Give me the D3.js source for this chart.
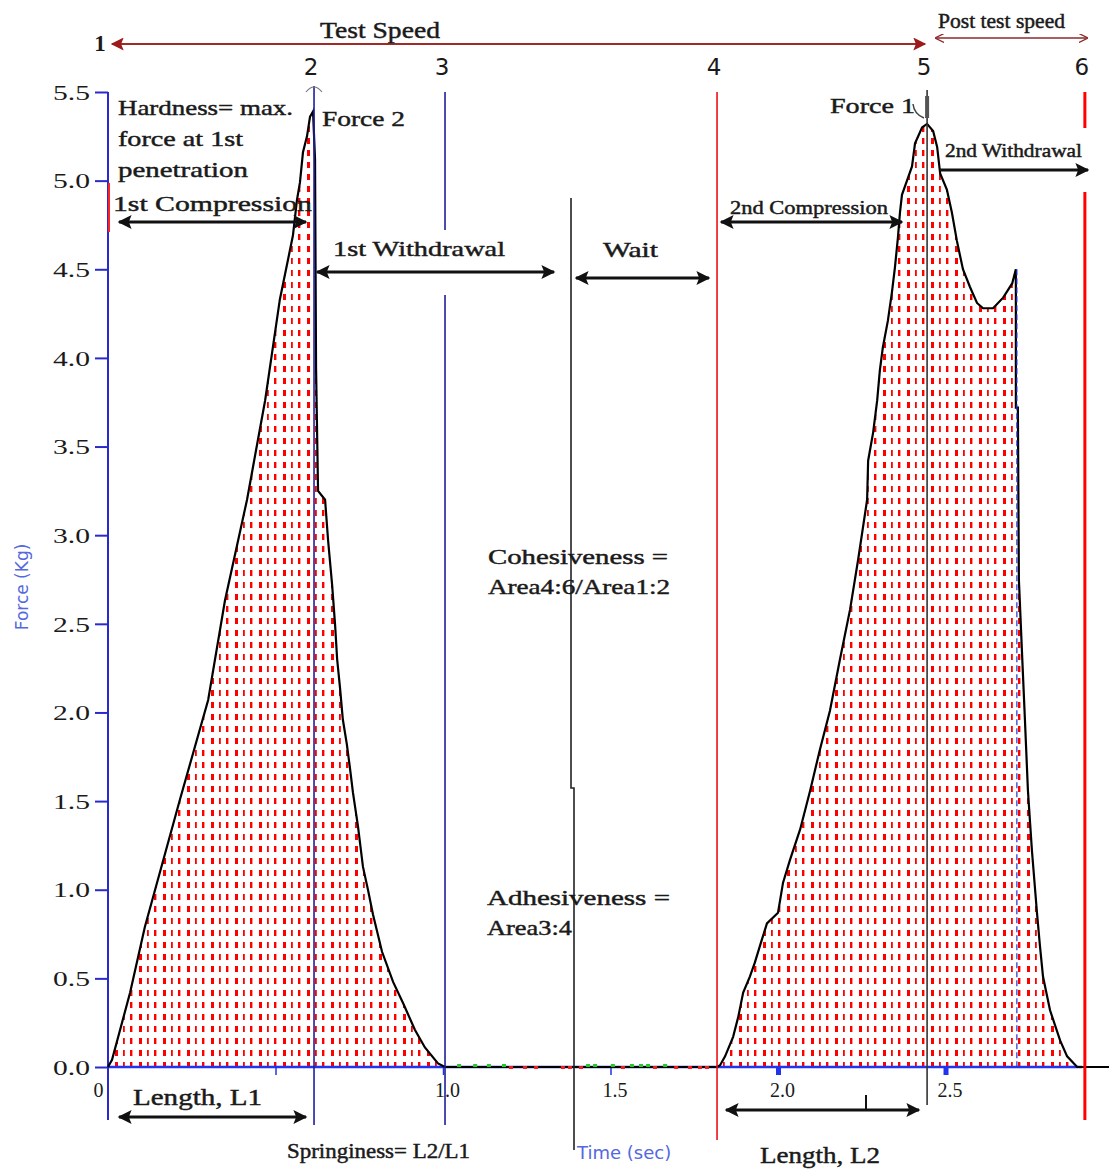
<!DOCTYPE html>
<html>
<head>
<meta charset="utf-8">
<script src="https://cdn.jsdelivr.net/npm/d3@7"></script>
<style>
  body { margin: 0; background: #fff; }
  text { font-family: "Liberation Serif", "Times New Roman", serif; fill: #1a1a1a; }
  .lab { stroke: #1a1a1a; stroke-width: 0.45px; }
  .sans { font-family: "DejaVu Sans", sans-serif; stroke: none; }
</style>
</head>
<body>
<svg id="chart" width="1109" height="1171"></svg>
<script>
// force (kg) against time (sec)
const firstPeak = [
  [0, 0], [0.012, 0.04], [0.066, 0.42], [0.110, 0.79], [0.215, 1.51], [0.299, 2.07],
  [0.349, 2.63], [0.415, 3.20], [0.469, 3.76], [0.513, 4.33], [0.552, 4.69], [0.564, 4.89],
  [0.573, 4.99], [0.582, 5.16], [0.594, 5.25], [0.603, 5.36], [0.612, 5.39], [0.618, 5.12],
  [0.621, 3.95], [0.627, 3.25], [0.648, 3.20], [0.657, 2.97], [0.669, 2.72], [0.678, 2.49],
  [0.684, 2.30], [0.693, 2.13], [0.701, 1.96], [0.713, 1.82], [0.722, 1.69], [0.731, 1.55],
  [0.746, 1.36], [0.761, 1.13], [0.776, 1.00], [0.791, 0.86], [0.818, 0.65], [0.851, 0.48],
  [0.881, 0.36], [0.916, 0.21], [0.946, 0.11], [0.985, 0.02], [1.006, 0]
];
const secondPeak = [
  [1.818, 0], [1.827, 0.01], [1.842, 0.06], [1.866, 0.17], [1.881, 0.28], [1.896, 0.42],
  [1.916, 0.51], [1.931, 0.59], [1.952, 0.72], [1.967, 0.81], [2.000, 0.87], [2.015, 1.04],
  [2.036, 1.17], [2.066, 1.34], [2.096, 1.56], [2.125, 1.79], [2.155, 2.01], [2.185, 2.30],
  [2.215, 2.58], [2.239, 2.86], [2.266, 3.20], [2.269, 3.42], [2.284, 3.58], [2.296, 3.76],
  [2.304, 3.93], [2.313, 4.06], [2.328, 4.21], [2.340, 4.37], [2.349, 4.51], [2.358, 4.68],
  [2.364, 4.82], [2.370, 4.92], [2.385, 5.00], [2.400, 5.08], [2.409, 5.21], [2.430, 5.30],
  [2.445, 5.32], [2.463, 5.28], [2.475, 5.19], [2.484, 5.04], [2.504, 4.95], [2.519, 4.82],
  [2.534, 4.66], [2.552, 4.50], [2.573, 4.40], [2.594, 4.31], [2.612, 4.28], [2.642, 4.28],
  [2.672, 4.34], [2.699, 4.42], [2.710, 4.50], [2.710, 3.72], [2.716, 3.72], [2.719, 2.75],
  [2.728, 2.35], [2.737, 1.96], [2.746, 1.56], [2.758, 1.22], [2.773, 0.87], [2.782, 0.68],
  [2.791, 0.51], [2.812, 0.32], [2.842, 0.15], [2.863, 0.06], [2.893, 0], [2.988, 0]
];
const restLine = [[1.006, 0], [1.818, 0]];
const greenNoise = [1.048, 1.096, 1.137, 1.182, 1.433, 1.454, 1.507, 1.564, 1.591, 1.612, 1.663];
const redNoise = [1.203, 1.245, 1.278, 1.358, 1.379, 1.412, 1.537, 1.633, 1.696, 1.737, 1.767, 1.788];

const yTicks = [0, 0.5, 1, 1.5, 2, 2.5, 3, 3.5, 4, 4.5, 5, 5.5];
const xTicks = [0, 0.5, 1.0, 1.5, 2.0, 2.5];
const xTickLabels = ["0", "", "1.0", "1.5", "2.0", "2.5"];

const phaseTimes = [0, 0.615, 1.006, 1.818, 2.445, 2.916];
const phaseLabels = ["1", "2", "3", "4", "5", "6"];

const svg = d3.select("#chart");
const x = d3.scaleLinear().domain([0, 2.988]).range([108, 1109]);
const y = d3.scaleLinear().domain([0, 5.5]).range([1067, 92]);

const defs = svg.append("defs");
const pat = defs.append("pattern").attr("id", "redDots")
  .attr("patternUnits", "userSpaceOnUse").attr("width", 24).attr("height", 12)
  .attr("x", 115).attr("y", 1062);
[[0, 3], [8, 1.8], [15, 2.4]].forEach(([ox, w]) => {
  pat.append("rect").attr("x", ox).attr("y", 0).attr("width", w).attr("height", 6).attr("fill", "#ff0000");
});

function marker(id, color, w, h, open) {
  const m = defs.append("marker").attr("id", id)
    .attr("viewBox", "0 0 10 10").attr("refX", 9).attr("refY", 5)
    .attr("markerUnits", "userSpaceOnUse").attr("markerWidth", w).attr("markerHeight", h)
    .attr("orient", "auto-start-reverse");
  if (open) m.append("path").attr("d", "M0,0 L10,5 L0,10").attr("fill", "none").attr("stroke", color).attr("stroke-width", 1.5);
  else m.append("path").attr("d", "M0,0 L10,5 L0,10 L2,5 z").attr("fill", color);
}
marker("blk", "#111", 16, 14, false);
marker("red", "#9e1a1a", 14, 13, false);
marker("thin", "#8b2a2a", 9, 9, true);

// filled areas
const area = d3.area().x(d => x(d[0])).y0(y(0)).y1(d => y(d[1]));
[firstPeak, secondPeak].forEach(s => {
  svg.append("path").datum(s).attr("d", area).attr("fill", "url(#redDots)");
});

// axes
svg.append("line").attr("x1", x(0)).attr("x2", 1082).attr("y1", y(0)).attr("y2", y(0))
  .attr("stroke", "#2233ee").attr("stroke-width", 2.5);
svg.append("line").attr("x1", x(0)).attr("x2", x(0)).attr("y1", y(5.5)).attr("y2", 1120)
  .attr("stroke", "#2a2acc").attr("stroke-width", 2);

const yAxis = svg.append("g").attr("transform", `translate(${x(0)},0)`)
  .call(d3.axisLeft(y).tickValues(yTicks).tickSize(13).tickSizeOuter(0).tickFormat(d3.format(".1f")));
yAxis.select(".domain").remove();
yAxis.selectAll(".tick line").attr("stroke", "#2a2acc").attr("stroke-width", 2);
yAxis.selectAll(".tick text").attr("x", -18).attr("dy", "0.36em")
  .style("font-family", "Liberation Serif, serif").style("font-size", "20px")
  .attr("textLength", 37).attr("lengthAdjust", "spacingAndGlyphs").attr("fill", "#3b2f2f");

const xAxis = svg.append("g").attr("transform", `translate(0,${y(0)})`)
  .call(d3.axisBottom(x).tickValues(xTicks).tickSize(8).tickSizeOuter(0).tickFormat((d, i) => xTickLabels[i]));
xAxis.select(".domain").remove();
xAxis.selectAll(".tick line").attr("stroke", "#2233ee").attr("stroke-width", (d) => d >= 2 ? 5 : 1.5)
  .attr("opacity", d => d === 0 ? 0 : 1);
xAxis.selectAll(".tick text").attr("y", 16).attr("dx", d => d === 0 ? -10 : 4)
  .style("font-family", "Liberation Serif, serif").style("font-size", "20px").attr("fill", "#3b2f2f");

// curve
const line = d3.line().x(d => x(d[0])).y(d => y(d[1]));
[firstPeak, restLine, secondPeak].forEach(s => {
  svg.append("path").datum(s).attr("d", line).attr("fill", "none")
    .attr("stroke", "#000").attr("stroke-width", 2.2).attr("stroke-linejoin", "miter");
});
svg.selectAll(".gdot").data(greenNoise).join("rect").attr("class", "gdot")
  .attr("x", d => x(d) - 2).attr("y", y(0) - 3).attr("width", 4).attr("height", 3).attr("fill", "#22cc22");
svg.selectAll(".rdot").data(redNoise).join("rect").attr("class", "rdot")
  .attr("x", d => x(d) - 2).attr("y", y(0) - 1).attr("width", 4).attr("height", 3).attr("fill", "#ee2222");

// phase lines
const vline = (t, y1, y2, color, w, dash) => svg.append("line")
  .attr("x1", x(t)).attr("x2", x(t)).attr("y1", y1).attr("y2", y2)
  .attr("stroke", color).attr("stroke-width", w).attr("stroke-dasharray", dash || null);
vline(phaseTimes[1], 86, 1125, "#1f1f9a", 1.6);
vline(phaseTimes[2], 92, 230, "#1f1f9a", 1.6);
vline(phaseTimes[2], 295, 1125, "#1f1f9a", 1.6);
vline(phaseTimes[3], 92, 1140, "#ee1111", 1.6);
vline(phaseTimes[4], 90, 1105, "#333", 1.6);
vline(phaseTimes[5], 92, 128, "#ff0000", 3);
vline(phaseTimes[5], 192, 1120, "#ff0000", 3);
vline(2.713, y(4.5), y(0), "#2233cc", 1.2, "6,3");
svg.append("path").attr("d", "M571,198 L571,788 L574,788 L574,1150").attr("fill", "none")
  .attr("stroke", "#222").attr("stroke-width", 1.6);
svg.append("line").attr("x1", 109).attr("x2", 109).attr("y1", 183).attr("y2", 232)
  .attr("stroke", "#ff2222").attr("stroke-width", 2);
// little caret above line 2 and leader for Force 1
svg.append("path").attr("d", "M306,92 Q314,82 322,92").attr("fill", "none").attr("stroke", "#777").attr("stroke-width", 1.2);
svg.append("path").attr("d", "M913,104 Q914,114 924,118").attr("fill", "none").attr("stroke", "#444").attr("stroke-width", 1.5);
svg.append("rect").attr("x", x(phaseTimes[4]) - 2).attr("y", 96).attr("width", 4).attr("height", 22).attr("fill", "#555");

svg.selectAll(".phase").data(phaseLabels).join("text").attr("class", "phase")
  .attr("x", (d, i) => x(phaseTimes[i]) - (i === 0 ? 8 : 3)).attr("y", (d, i) => i === 0 ? 51 : 75)
  .attr("text-anchor", "middle")
  .style("font-family", (d, i) => i === 0 ? "Liberation Serif, serif" : "DejaVu Sans, sans-serif")
  .style("font-weight", (d, i) => i === 0 ? "bold" : "normal")
  .style("font-size", "23px").text(d => d);

// arrows
function arrow(x1, x2, yy, mk, color, w, both) {
  return svg.append("line").attr("x1", x1).attr("x2", x2).attr("y1", yy).attr("y2", yy)
    .attr("stroke", color).attr("stroke-width", w)
    .attr("marker-end", `url(#${mk})`).attr("marker-start", both ? `url(#${mk})` : null);
}
arrow(112, 925, 44, "red", "#9e2a2a", 2.2, true);
arrow(936, 1087, 38, "thin", "#8b2a2a", 1.3, true);
arrow(119, 306, 222, "blk", "#111", 3, true);
arrow(317, 554, 272, "blk", "#111", 3, true);
arrow(576, 709, 278, "blk", "#111", 3, true);
arrow(721, 902, 222, "blk", "#111", 3, true);
arrow(940, 1088, 170, "blk", "#111", 3, false);
arrow(119, 306, 1117, "blk", "#111", 3, true);
arrow(726, 919, 1110, "blk", "#111", 3, true);
svg.append("line").attr("x1", 866).attr("x2", 866).attr("y1", 1095).attr("y2", 1110).attr("stroke", "#111").attr("stroke-width", 2);

// labels
const labels = [
  ["Test Speed", 320, 38, 24, 120],
  ["Post test speed", 938, 28, 20, 127],
  ["Hardness= max.", 118, 115, 22, 175],
  ["force at 1st", 118, 146, 22, 125],
  ["penetration", 118, 177, 22, 130],
  ["1st Compression", 113, 211, 22, 199],
  ["Force 2", 322, 126, 22, 83],
  ["1st Withdrawal", 333, 256, 22, 172],
  ["Wait", 603, 257, 22, 55],
  ["2nd Compression", 730, 214, 18, 158],
  ["Force 1", 830, 113, 22, 85],
  ["2nd Withdrawal", 945, 157, 18, 137],
  ["Cohesiveness =", 488, 564, 22, 180],
  ["Area4:6/Area1:2", 488, 594, 22, 182],
  ["Adhesiveness =", 487, 905, 22, 183],
  ["Area3:4", 487, 935, 22, 85],
  ["Length, L1", 133, 1105, 23, 129],
  ["Springiness= L2/L1", 287, 1158, 21, 183],
  ["Length, L2", 760, 1163, 23, 120]
];
svg.selectAll(".lab").data(labels).join("text").attr("class", "lab")
  .attr("x", d => d[1]).attr("y", d => d[2]).style("font-size", d => d[3] + "px")
  .attr("textLength", d => d[4]).attr("lengthAdjust", "spacingAndGlyphs").text(d => d[0]);

svg.append("text").attr("class", "sans").attr("transform", "translate(28,587) rotate(-90)")
  .attr("text-anchor", "middle").style("font-size", "17px").style("fill", "#5468e0").text("Force (Kg)");
svg.append("text").attr("class", "sans").attr("x", 577).attr("y", 1159)
  .style("font-size", "18px").style("fill", "#5468e0").text("Time (sec)");
</script>
</body>
</html>
